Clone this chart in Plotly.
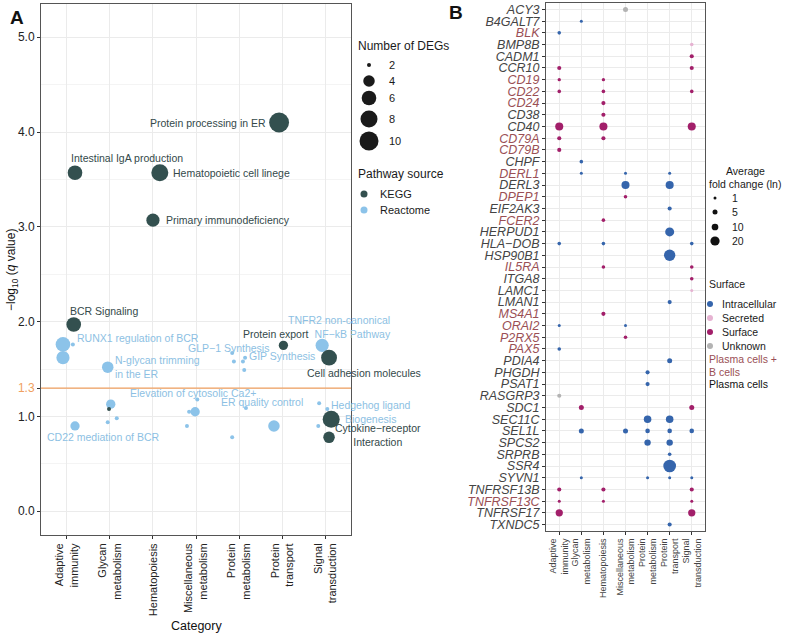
import numpy as np
import plotly.graph_objects as go

W, H = 789, 634
OFF = 0
FONT = "Liberation Sans"

# ---------------- Panel A data ----------------
categories = ["Adaptive immunity", "Glycan metabolism", "Hematopoiesis",
              "Miscellaneous metabolism", "Protein metabolism",
              "Protein transport", "Signal transduction"]
cat_ticktext = ["Adaptive<br>immunity", "Glycan<br>metabolism", "Hematopoiesis",
                "Miscellaneous<br>metabolism", "Protein<br>metabolism",
                "Protein<br>transport", "Signal<br>transduction"]

kegg_cat = [5, 0, 2, 2, 0, 5, 6, 6, 6, 1]
kegg_jitter = [-0.07, 0.19, 0.16, 0.00, 0.16, 0.03, 0.09, 0.14, 0.09, -0.02]
kegg_q = [4.10, 3.57, 3.57, 3.07, 1.97, 1.75, 1.62, 0.97, 0.78, 1.08]
kegg_degs = [11, 6, 8, 5, 6, 3, 7, 8, 4, 2]

react_cat = [0, 0, 0, 1, 1, 1, 1, 0, 3, 3, 3, 3, 4, 4, 4, 4, 4, 4, 4, 5, 6, 6, 6, 6]
react_jitter = [-0.09, 0.14, -0.09, -0.05, 0.02, -0.05, 0.16, 0.19, 0.03, -0.16,
                -0.02, -0.21, -0.16, -0.12, 0.09, 0.14, 0.12, 0.16, -0.16, -0.19,
                -0.07, -0.14, 0.05, -0.16]
react_q = [1.76, 1.76, 1.62, 1.52, 1.13, 0.94, 0.98, 0.90, 1.18, 1.05, 1.05, 0.90,
           1.67, 1.58, 1.58, 1.62, 1.49, 1.09, 0.78, 0.90, 1.75, 1.14, 1.08, 0.90]
react_degs = [6, 2, 5, 4, 3, 2, 2, 3, 2, 2, 3, 2, 2, 2, 2, 2, 2, 2, 2, 4, 5, 2, 2, 2]

q_threshold = 1.3

# pathway labels
lab_text = ["Protein processing in ER", "Intestinal IgA production",
            "Hematopoietic cell linege", "Primary immunodeficiency",
            "BCR Signaling", "RUNX1 regulation of BCR",
            "N-glycan trimming<br>in the ER", "GLP\u22121 Synthesis", "GIP Synthesis",
            "Protein export", "TNFR2 non-canonical<br>NF\u2212kB Pathway",
            "Cell adhesion molecules", "Elevation of cytosolic Ca2+",
            "ER quality control", "CD22 mediation of BCR",
            "Hedgehog ligand<br>Biogenesis", "Cytokine\u2212receptor<br>Interaction"]
lab_src = ["KEGG", "KEGG", "KEGG", "KEGG", "KEGG", "Reactome", "Reactome",
           "Reactome", "Reactome", "KEGG", "Reactome", "KEGG", "Reactome",
           "Reactome", "Reactome", "Reactome", "KEGG"]

deg_legend = [2, 4, 6, 8, 10]

# ---------------- Panel B data ----------------
genes = ["ACY3", "B4GALT7", "BLK", "BMP8B", "CADM1", "CCR10", "CD19", "CD22",
         "CD24", "CD38", "CD40", "CD79A", "CD79B", "CHPF", "DERL1", "DERL3",
         "DPEP1", "EIF2AK3", "FCER2", "HERPUD1", "HLA\u2212DOB", "HSP90B1", "IL5RA",
         "ITGA8", "LAMC1", "LMAN1", "MS4A1", "ORAI2", "P2RX5", "PAX5", "PDIA4",
         "PHGDH", "PSAT1", "RASGRP3", "SDC1", "SEC11C", "SEL1L", "SPCS2", "SRPRB",
         "SSR4", "SYVN1", "TNFRSF13B", "TNFRSF13C", "TNFRSF17", "TXNDC5"]
bcell_genes = ["BLK", "CD19", "CD22", "CD24", "CD79A", "CD79B", "DERL1", "DPEP1",
               "FCER2", "IL5RA", "MS4A1", "ORAI2", "P2RX5", "PAX5", "TNFRSF13C"]

b_gene = ["ACY3", "B4GALT7", "BLK", "BMP8B", "CADM1", "CCR10", "CCR10", "CD19", "CD19",
          "CD22", "CD22", "CD22", "CD24", "CD38", "CD40", "CD40", "CD40", "CD79A",
          "CD79A", "CD79B", "CHPF", "DERL1", "DERL1", "DERL1", "DERL3", "DERL3",
          "DPEP1", "EIF2AK3", "FCER2", "HERPUD1", "HLA\u2212DOB", "HLA\u2212DOB",
          "HLA\u2212DOB", "HSP90B1", "IL5RA", "IL5RA", "ITGA8", "LAMC1", "LMAN1",
          "MS4A1", "ORAI2", "ORAI2", "P2RX5", "PAX5", "PDIA4", "PHGDH", "PSAT1",
          "RASGRP3", "SDC1", "SDC1", "SEC11C", "SEC11C", "SEL1L", "SEL1L", "SEL1L",
          "SEL1L", "SEL1L", "SPCS2", "SPCS2", "SRPRB", "SSR4", "SYVN1", "SYVN1",
          "SYVN1", "SYVN1", "TNFRSF13B", "TNFRSF13B", "TNFRSF13B", "TNFRSF13C",
          "TNFRSF13C", "TNFRSF13C", "TNFRSF17", "TNFRSF17", "TXNDC5"]
b_cat = [3, 1, 0, 6, 6, 0, 6, 0, 2, 0, 2, 6, 2, 2, 0, 2, 6, 0, 2, 0, 1, 1, 3, 5, 3, 5,
         3, 5, 2, 5, 0, 2, 6, 5, 2, 6, 6, 6, 5, 2, 0, 3, 3, 0, 5, 4, 4, 0, 1, 6, 4, 5,
         1, 3, 4, 5, 6, 4, 5, 5, 5, 1, 4, 5, 6, 0, 2, 6, 0, 2, 6, 0, 6, 5]
b_type = ["Unknown", "Intracellular", "Intracellular", "Secreted", "Surface", "Surface",
          "Surface", "Surface", "Surface", "Surface", "Surface", "Surface", "Surface",
          "Surface", "Surface", "Surface", "Surface", "Surface", "Surface", "Surface",
          "Intracellular", "Intracellular", "Intracellular", "Intracellular",
          "Intracellular", "Intracellular", "Surface", "Intracellular", "Surface",
          "Intracellular", "Intracellular", "Intracellular", "Intracellular",
          "Intracellular", "Surface", "Surface", "Surface", "Secreted", "Intracellular",
          "Surface", "Intracellular", "Intracellular", "Surface", "Intracellular",
          "Intracellular", "Intracellular", "Intracellular", "Unknown", "Surface",
          "Surface", "Intracellular", "Intracellular", "Intracellular", "Intracellular",
          "Intracellular", "Intracellular", "Intracellular", "Intracellular",
          "Intracellular", "Intracellular", "Intracellular", "Intracellular",
          "Intracellular", "Intracellular", "Intracellular", "Surface", "Surface",
          "Surface", "Surface", "Surface", "Surface", "Surface", "Surface",
          "Intracellular"]
b_fc = [5, 1, 2, 2, 3, 3, 3, 1.5, 1.5, 2, 2, 2, 3, 3, 15, 15, 15, 3, 3, 3, 2, 1, 1, 1,
        15, 15, 2, 3, 2, 19, 2, 2, 2, 31, 2, 2, 2, 1, 3, 3, 1, 1, 2, 2, 5, 3, 3, 3, 5,
        5, 13, 13, 5, 5, 4, 4, 4, 9, 9, 2, 39, 1, 1, 1, 1, 3, 3, 3, 1, 1, 1, 12, 12, 3]

surface_types = ["Intracellular", "Secreted", "Surface", "Unknown"]
fc_legend = [1, 5, 10, 20]

# ---------------- layout positions (page pixels) ----------------
LAB_PX = [(268, 123, "right"), (69, 158, "left"), (171, 173, "left"), (164, 220, "left"),
          (68, 311, "left"), (75, 338, "left"), (113, 367, "left"), (186, 348, "left"),
          (247, 356, "left"), (241, 334, "left"), (393, 327, "right"), (305, 373, "left"),
          (193, 393, "center"), (219, 402, "left"), (45, 437, "left"),
          (371, 412, "center"), (378, 435, "center")]

KEGG_COL = "#33504F"
REACT_COL = "#8CC3E9"
KEGG_LAB = "#33494A"
REACT_LAB = "#8DBFE3"
ORANGE = "#F0A060"
surf_col = {"Intracellular": "#3565AC", "Secreted": "#E6B3D2",
            "Surface": "#A21F6A", "Unknown": "#B3B3B3"}
RED_LAB = "#9A4F55"
GRID = "#EBEBEB"
BORDER = "#555555"


def deg_size(n):
    return 4 + 15 * np.sqrt(max(n - 2, 0) / 8.0)


def fc_size(v):
    return np.sqrt(9 + 4 * (v - 1))


def px_x(p):
    return (p - OFF) / W


def px_y(p):
    return 1 - (p - OFF) / H


fig = go.Figure()

# Panel A traces
fig.add_trace(go.Scatter(
    x=[c + j for c, j in zip(react_cat, react_jitter)], y=react_q, mode="markers",
    marker=dict(color=REACT_COL, size=[deg_size(n) for n in react_degs],
                opacity=1, line=dict(width=0)),
    xaxis="x", yaxis="y", showlegend=False, cliponaxis=False))
fig.add_trace(go.Scatter(
    x=[c + j for c, j in zip(kegg_cat, kegg_jitter)], y=kegg_q, mode="markers",
    marker=dict(color=KEGG_COL, size=[deg_size(n) for n in kegg_degs],
                opacity=1, line=dict(width=0)),
    xaxis="x", yaxis="y", showlegend=False, cliponaxis=False))

# Panel B traces
gidx = {g: i for i, g in enumerate(genes)}
for t in surface_types:
    sel = [i for i, tt in enumerate(b_type) if tt == t]
    fig.add_trace(go.Scatter(
        x=[b_cat[i] for i in sel], y=[gidx[b_gene[i]] for i in sel], mode="markers",
        marker=dict(color=surf_col[t], size=[fc_size(b_fc[i]) for i in sel],
                    opacity=1, line=dict(width=0)),
        xaxis="x2", yaxis="y2", showlegend=False))

# Legend glyphs on a page-pixel overlay axis
LEG_A_X, LEG_A_Y = 369, [65, 81, 98, 119, 141]
fig.add_trace(go.Scatter(
    x=[LEG_A_X] * len(deg_legend), y=LEG_A_Y, mode="markers",
    marker=dict(color="#1A1A1A", size=[deg_size(n) for n in deg_legend],
                opacity=1, line=dict(width=0)),
    xaxis="x3", yaxis="y3", showlegend=False, cliponaxis=False))
fig.add_trace(go.Scatter(
    x=[364, 364], y=[194, 210], mode="markers",
    marker=dict(color=[KEGG_COL, REACT_COL], size=7, opacity=1, line=dict(width=0)),
    xaxis="x3", yaxis="y3", showlegend=False, cliponaxis=False))
LEG_B_Y = [198, 212, 227, 241]
fig.add_trace(go.Scatter(
    x=[715] * len(fc_legend), y=LEG_B_Y, mode="markers",
    marker=dict(color="#111111", size=[fc_size(v) for v in fc_legend],
                opacity=1, line=dict(width=0)),
    xaxis="x3", yaxis="y3", showlegend=False, cliponaxis=False))
SURF_Y = [304, 318, 332, 346]
fig.add_trace(go.Scatter(
    x=[710] * 4, y=SURF_Y, mode="markers",
    marker=dict(color=[surf_col[t] for t in surface_types], size=6, opacity=1,
                line=dict(width=0)),
    xaxis="x3", yaxis="y3", showlegend=False, cliponaxis=False))

ann = []
for t, (x, y, a), s in zip(lab_text, LAB_PX, lab_src):
    ann.append(dict(text=t, x=x, y=y, xref="x3", yref="y3", xanchor=a, yanchor="middle",
                    align=a, showarrow=False,
                    font=dict(family=FONT, size=10.5,
                              color=KEGG_LAB if s == "KEGG" else REACT_LAB)))


def ltext(t, x, y, size=11, color="#1A1A1A", anchor="left", angle=0):
    ann.append(dict(text=t, x=px_x(x), y=px_y(y), xref="paper", yref="paper",
                    xanchor=anchor, yanchor="middle", align="center", showarrow=False,
                    textangle=angle, font=dict(family=FONT, size=size, color=color)))


ltext("<b>A</b>", 17, 17, 19, "#111", "center")
ltext("<b>B</b>", 456, 13, 19, "#111", "center")
ltext("\u2212log<sub>10</sub> (<i>q</i> value)", 12, 270, 12, "#111", "center", -90)
ltext("Category", 196, 626, 12.5, "#111", "center")

ltext("Number of DEGs", 356, 46, 12)
for n, y in zip(deg_legend, LEG_A_Y):
    ltext(str(n), 387, y, 11)
ltext("Pathway source", 356, 174, 12)
ltext("KEGG", 378, 194, 11)
ltext("Reactome", 378, 210, 11)

ltext("Average", 745, 171, 10.5, anchor="center")
ltext("fold change (ln)", 745, 184, 10.5, anchor="center")
for v, y in zip(fc_legend, LEG_B_Y):
    ltext(str(v), 730, y, 10.5)
ltext("Surface", 707, 284, 10.5)
for t, y in zip(surface_types, SURF_Y):
    ltext(t, 720, y, 10.5)
ltext("Plasma cells +", 707, 359, 10.5, RED_LAB)
ltext("B cells", 707, 372, 10.5, RED_LAB)
ltext("Plasma cells", 707, 384, 10.5, "#111")

ytick_vals = [0, 1, q_threshold, 2, 3, 4, 5]
ytick_text = ["0.0", "1.0", '<span style="color:%s">1.3</span>' % ORANGE,
              "2.0", "3.0", "4.0", "5.0"]
gene_ticktext = [('<span style="color:%s">%s</span>' % (RED_LAB, g)) if g in bcell_genes else g
                 for g in genes]

axis_common = dict(showline=True, linecolor=BORDER, linewidth=1, mirror=True,
                   ticks="outside", ticklen=3, tickcolor="#333", zeroline=False,
                   gridcolor=GRID, gridwidth=0.8)

fig.update_layout(
    width=W, height=H, margin=dict(l=0, r=0, t=0, b=0),
    paper_bgcolor="white", plot_bgcolor="rgba(0,0,0,0)",
    font=dict(family=FONT),
    xaxis=dict(domain=[px_x(41), px_x(351)], anchor="y", range=[-0.6, 6.6],
               tickmode="array", tickvals=list(range(7)), ticktext=cat_ticktext,
               tickangle=-90, tickfont=dict(size=11, color="#222"), **axis_common),
    yaxis=dict(domain=[px_y(535), px_y(4)], anchor="x", range=[-0.25, 5.35],
               tickmode="array", tickvals=ytick_vals, ticktext=ytick_text,
               tickfont=dict(size=12, color="#222"),
               minor=dict(tickmode="array", tickvals=[0.5, 1.5, 2.5, 3.5, 4.5],
                          showgrid=True, gridcolor="#F4F4F4", ticks=""),
               **axis_common),
    xaxis2=dict(domain=[px_x(546), px_x(705)], anchor="y2", range=[-0.6, 6.6],
                tickmode="array", tickvals=list(range(7)), ticktext=cat_ticktext,
                tickangle=-90, tickfont=dict(size=9, color="#444"), **axis_common),
    yaxis2=dict(domain=[px_y(531), px_y(3)], anchor="x2", range=[44.55, -0.55],
                tickmode="array", tickvals=list(range(len(genes))), ticktext=gene_ticktext,
                tickfont=dict(size=12.5, color="#444", style="italic"), **axis_common),
    xaxis3=dict(domain=[0, 1], anchor="y3", range=[OFF, W + OFF], visible=False,
                fixedrange=True),
    yaxis3=dict(domain=[0, 1], anchor="x3", range=[H + OFF, OFF], visible=False,
                fixedrange=True),
    annotations=ann,
    shapes=[dict(type="line", xref="x domain", yref="y", x0=0, x1=1,
                 y0=q_threshold, y1=q_threshold, line=dict(color=ORANGE, width=1.2))],
)

fig.write_html("out.html", config={"displayModeBar": False},
               post_script="document.body.style.margin='0px';document.body.style.padding='0px';")
